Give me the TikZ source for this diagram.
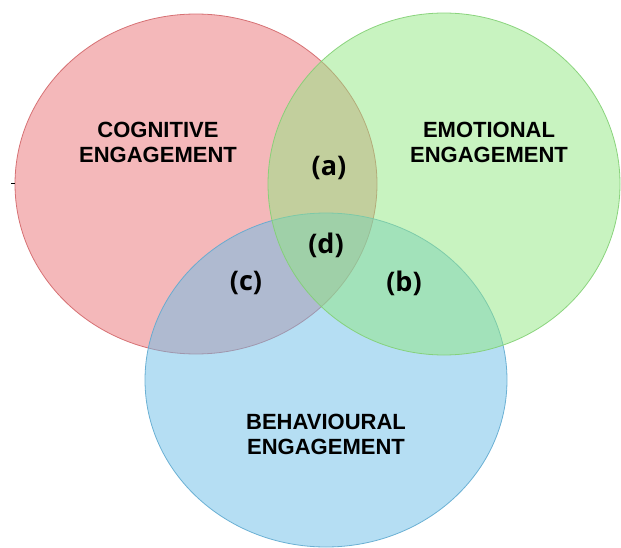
\documentclass[tikz,border=0pt]{standalone}
\usepackage{fontspec}
\setmainfont{Liberation Sans}
\newfontfamily\regionfont{Open Sans}
\usepackage{tikz}

\definecolor{cogred}{HTML}{E97175}
\definecolor{emogreen}{HTML}{91E781}
\definecolor{behblue}{HTML}{6BBDE7}

\begin{document}
\begin{tikzpicture}[x=1pt, y=-1pt,
    set/.style={fill opacity=0.5, draw opacity=0.9, line width=0.8pt},
    title/.style={align=center, font=\bfseries\fontsize{22}{25}\selectfont},
    region/.style={font=\regionfont\bfseries\fontsize{27}{27}\selectfont}]
    \useasboundingbox (0,0) rectangle (621,548);

    % the three sets
    \filldraw[set, fill=cogred, draw=cogred!90!black] (196,184) ellipse [x radius=181, y radius=170];
    \filldraw[set, fill=behblue, draw=behblue!90!black] (326,380) ellipse [x radius=181, y radius=167];
    \filldraw[set, fill=emogreen, draw=emogreen!90!black] (444,184) ellipse [x radius=176, y radius=171];

    % set titles
    \node[title] (COG) at (158,142) {COGNITIVE\\ENGAGEMENT};
    \node[title] (EMO) at (489,142) {EMOTIONAL\\ENGAGEMENT};
    \node[title] (BEH) at (326,434) {BEHAVIOURAL\\ENGAGEMENT};

    % overlaps
    \node[region] (A) at (329,168) {(a)};
    \node[region] (B) at (404,283) {(b)};
    \node[region] (C) at (246,283) {(c)};
    \node[region] (D) at (326,245) {(d)};

    \coordinate (tickL) at (11,183);
    \coordinate (tickR) at (15,183);
    \draw[line width=0.6pt] (tickL) -- (tickR);
\end{tikzpicture}
\end{document}
